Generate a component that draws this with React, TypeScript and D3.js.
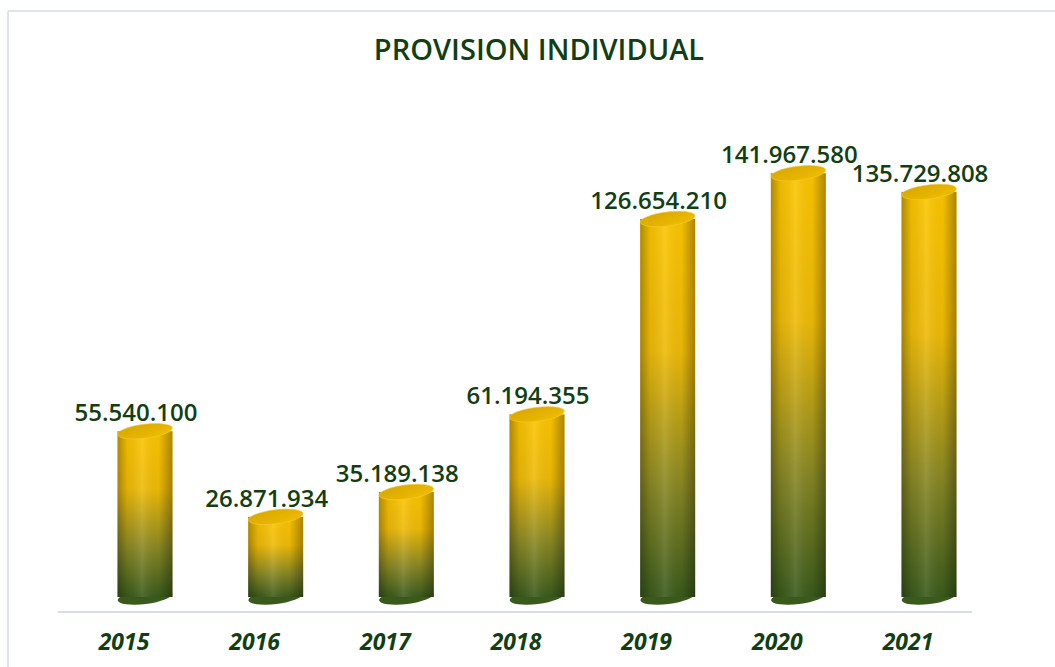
import React from "react";
import * as d3 from "d3";

const years = ["2015", "2016", "2017", "2018", "2019", "2020", "2021"];
const values = [55540100, 26871934, 35189138, 61194355, 126654210, 141967580, 135729808];
const valueLabels = ["55.540.100", "26.871.934", "35.189.138", "61.194.355", "126.654.210", "141.967.580", "135.729.808"];
const title = "PROVISION INDIVIDUAL";

const W = 1055;
const H = 667;
const BAR_W = 55;
const RY = 7;
const TILT = -7;

export default function App() {
  const x = d3.scalePoint<string>().domain(years).range([145, 929]);
  const y = d3.scaleLinear().domain([0, 150000000]).range([597, 597 - 150 * 2.985]);
  const font = "'Open Sans', sans-serif";
  const green = "#123f12";

  return (
    <svg width={W} height={H} style={{ position: "absolute", left: 0, top: 0, background: "#fff" }}>
      <defs>
        <linearGradient id="bodyV" x1="0" y1="0" x2="0" y2="1">
          <stop offset="0%" stopColor="#fcc500" />
          <stop offset="35%" stopColor="#eeba08" />
          <stop offset="70%" stopColor="#8a8824" />
          <stop offset="100%" stopColor="#3a5a1c" />
        </linearGradient>
        <linearGradient id="bodyH" x1="0" y1="0" x2="1" y2="0">
          <stop offset="0%" stopColor="#000" stopOpacity="0.3" />
          <stop offset="18%" stopColor="#000" stopOpacity="0.06" />
          <stop offset="45%" stopColor="#fff" stopOpacity="0.1" />
          <stop offset="75%" stopColor="#000" stopOpacity="0.03" />
          <stop offset="100%" stopColor="#000" stopOpacity="0.32" />
        </linearGradient>
        <linearGradient id="topG" x1="0" y1="0" x2="1" y2="1">
          <stop offset="0%" stopColor="#d6a600" />
          <stop offset="60%" stopColor="#e6b400" />
          <stop offset="100%" stopColor="#f2c200" />
        </linearGradient>
      </defs>

      {/* chart border */}
      <line x1={8} y1={11} x2={W} y2={11} stroke="#dfe4ec" strokeWidth={2} />
      <line x1={8} y1={11} x2={8} y2={H} stroke="#dfe4ec" strokeWidth={2} />

      <text x={539} y={60} textAnchor="middle" fontFamily={font} fontWeight={600} fontSize={29} fill={green}>
        {title}
      </text>

      {/* axis line */}
      <line x1={58} y1={612} x2={972} y2={612} stroke="#d9dde8" strokeWidth={2} />

      {years.map((yr, i) => {
        const cx = x(yr) as number;
        const top = y(values[i]);
        const base = y(0);
        return (
          <g key={yr}>
            <ellipse cx={cx} cy={base} rx={BAR_W / 2} ry={RY} fill="#3a5a1c" transform={`rotate(${TILT} ${cx} ${base})`} />
            <rect x={cx - BAR_W / 2} y={top} width={BAR_W} height={base - top} fill="url(#bodyV)" />
            <rect x={cx - BAR_W / 2} y={top} width={BAR_W} height={base - top} fill="url(#bodyH)" />
            <ellipse cx={cx} cy={top} rx={BAR_W / 2} ry={RY} fill="url(#topG)" stroke="#f5c83a" strokeWidth={0.6} transform={`rotate(${TILT} ${cx} ${top})`} />
            <text x={cx - 9} y={top - 10} textAnchor="middle" fontFamily={font} fontWeight={600} fontSize={24} fill={green}>
              {valueLabels[i]}
            </text>
            <text x={cx - 21} y={650} textAnchor="middle" fontFamily={font} fontWeight={700} fontStyle="italic" fontSize={23} fill={green}>
              {yr}
            </text>
          </g>
        );
      })}
    </svg>
  );
}
